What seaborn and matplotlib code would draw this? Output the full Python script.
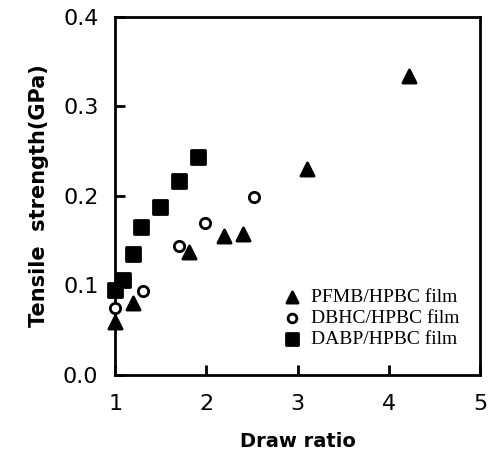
import pandas as pd
import matplotlib
matplotlib.use("Agg")
import matplotlib.pyplot as plt
import seaborn as sns

# data
pfmb_x = [1.0, 1.2, 1.81, 2.19, 2.40, 3.10, 4.22]
pfmb_y = [0.059, 0.080, 0.137, 0.155, 0.157, 0.230, 0.334]
dbhc_x = [1.0, 1.30, 1.70, 1.99, 2.52]
dbhc_y = [0.075, 0.094, 0.144, 0.170, 0.199]
dabp_x = [1.0, 1.09, 1.20, 1.28, 1.49, 1.70, 1.91]
dabp_y = [0.095, 0.106, 0.135, 0.165, 0.188, 0.217, 0.243]
series = ["PFMB/HPBC film", "DBHC/HPBC film", "DABP/HPBC film"]

df = pd.concat([
    pd.DataFrame({"x": pfmb_x, "y": pfmb_y, "film": series[0]}),
    pd.DataFrame({"x": dbhc_x, "y": dbhc_y, "film": series[1]}),
    pd.DataFrame({"x": dabp_x, "y": dabp_y, "film": series[2]}),
])

sns.set_style("ticks", {"axes.edgecolor": "black", "text.color": "black",
                        "xtick.color": "black", "ytick.color": "black",
                        "axes.labelcolor": "black"})
plt.rcParams["font.family"] = ["DejaVu Sans"]

fig = plt.figure(figsize=(4.9, 4.55), dpi=100)
ax = fig.add_axes([0.235, 0.176, 0.745, 0.787])

styles = {
    series[0]: dict(marker="^", facecolor="black", s=90),
    series[1]: dict(marker="o", facecolor="white", s=55),
    series[2]: dict(marker="s", facecolor="black", s=90),
}
for name in series:
    st = styles[name]
    sns.scatterplot(data=df[df["film"] == name], x="x", y="y", ax=ax,
                    marker=st["marker"], s=st["s"], color=st["facecolor"],
                    edgecolor="black", linewidth=2, label=name, clip_on=False, zorder=3)

ax.set_xlim(1, 5)
ax.set_ylim(0, 0.4)
ax.set_xticks([1, 2, 3, 4, 5])
ax.set_yticks([0.0, 0.1, 0.2, 0.3, 0.4])
ax.set_yticklabels(["0.0", "0.1", "0.2", "0.3", "0.4"])
ax.tick_params(direction="in", length=7, width=2, labelsize=16, top=False, right=False)
ax.tick_params(axis="x", pad=14)
ax.tick_params(axis="y", pad=12)
for sp in ax.spines.values():
    sp.set_linewidth(2)
    sp.set_visible(True)

ax.set_xlabel("Draw ratio", fontsize=14, fontweight="bold", labelpad=13)
ax.set_ylabel("Tensile  strength(GPa)", fontsize=15, fontweight="bold", labelpad=10)

leg = ax.legend(loc="lower right", bbox_to_anchor=(0.99, 0.025), frameon=False,
                prop={"family": "Liberation Serif", "size": 14},
                handlelength=0.8, handletextpad=0.55, labelspacing=0.18,
                markerscale=0.85)

fig.savefig("out.png", dpi=100)
